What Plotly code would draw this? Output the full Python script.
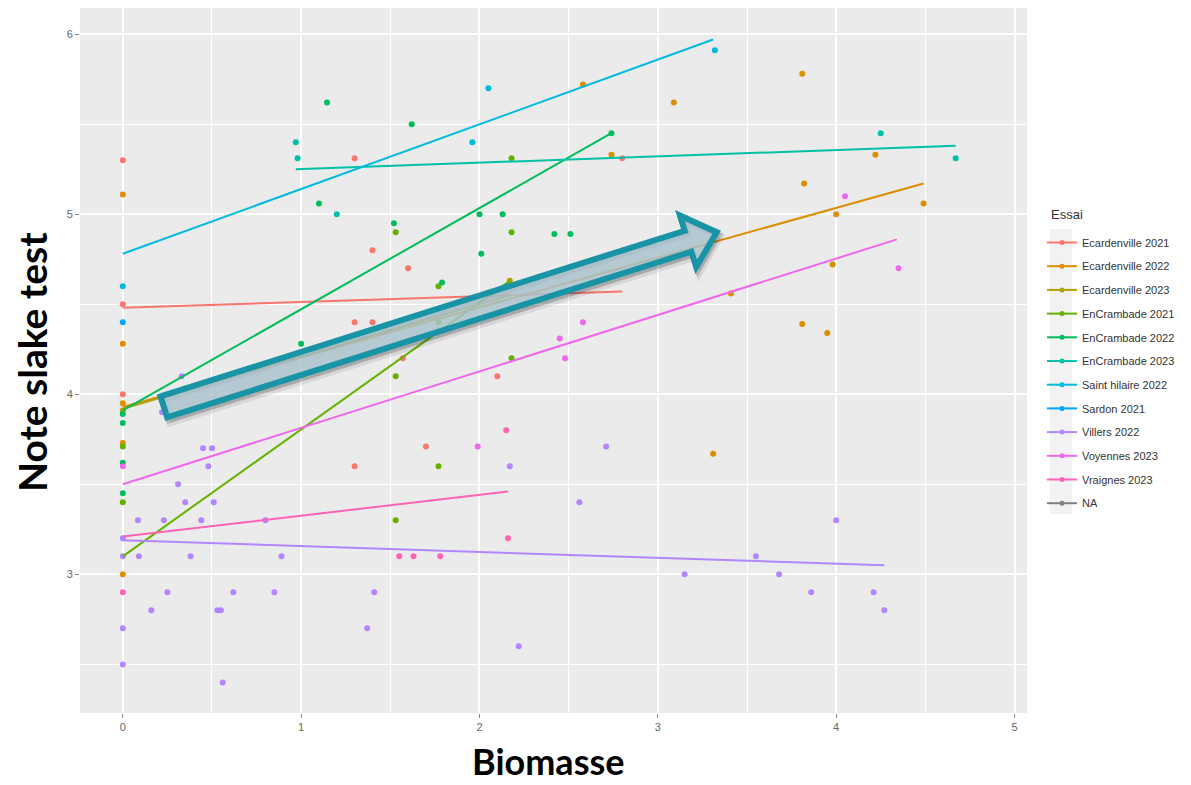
import math
import plotly.graph_objects as go

# ---------------- data ----------------
series_names = ["Ecardenville 2021", "Ecardenville 2022", "Ecardenville 2023",
                "EnCrambade 2021", "EnCrambade 2022", "EnCrambade 2023",
                "Saint hilaire 2022", "Sardon 2021", "Villers 2022",
                "Voyennes 2023", "Vraignes 2023", "NA"]
series_colors = ["#F8766D", "#DB8E00", "#AEA200", "#64B200", "#00BD5C", "#00C1A7",
                 "#00BADE", "#00A6FF", "#B385FF", "#EF67EB", "#FF63B6", "#7F7F7F"]

ecard21_x = [0, 0, 0, 1.30, 1.40, 1.60, 1.30, 1.40, 1.57, 2.10, 1.70, 1.30, 2.80]
ecard21_y = [5.30, 4.50, 4.00, 5.31, 4.80, 4.70, 4.40, 4.40, 4.20, 4.10, 3.71, 3.60, 5.31]

ecard22_x = [0, 0, 0, 0, 0, 2.58, 2.74, 3.09, 3.81, 4.22, 3.82, 4.49, 4.00, 3.98,
             3.41, 3.81, 3.95, 3.31]
ecard22_y = [5.11, 4.28, 3.95, 3.73, 3.00, 5.72, 5.33, 5.62, 5.78, 5.33, 5.17, 5.06, 5.00, 4.72,
             4.56, 4.39, 4.34, 3.67]

ecard23_x = [0, 2.17]
ecard23_y = [3.91, 4.63]

encr21_x = [0, 0, 1.53, 1.77, 1.77, 1.53, 1.77, 2.18, 2.18, 2.18, 1.53]
encr21_y = [3.71, 3.40, 4.90, 4.60, 4.40, 3.30, 3.60, 4.20, 5.31, 4.90, 4.10]

encr22_x = [0, 0, 0, 0, 1.145, 1.62, 1.10, 1.52, 2.00, 2.13, 2.42, 2.51, 2.01, 2.74, 1.00, 1.79]
encr22_y = [3.89, 3.84, 3.62, 3.45, 5.62, 5.50, 5.06, 4.95, 5.00, 5.00, 4.89, 4.89, 4.78, 5.45, 4.28, 4.62]

encr23_x = [0.97, 0.98, 1.20, 4.25, 4.67]
encr23_y = [5.40, 5.31, 5.00, 5.45, 5.31]

sthil22_x = [0, 2.05, 1.96, 3.32]
sthil22_y = [4.60, 5.70, 5.40, 5.91]

sardon21_x = [0]
sardon21_y = [4.40]

villers22_x = [0, 0, 0, 0, 0.085, 0.23, 0.09, 0.31, 0.35, 0.44, 0.38, 0.45, 0.50, 0.48, 0.51,
               0.80, 0.89, 0.25, 0.62, 0.85, 0.16, 0.53, 0.55, 0.56, 0.33, 0.22, 1.41, 1.37,
               2.22, 2.17, 2.71, 2.56, 4.00, 3.55, 3.15, 3.68, 3.86, 4.21, 4.27]
villers22_y = [3.20, 3.10, 2.70, 2.50, 3.30, 3.30, 3.10, 3.50, 3.40, 3.30, 3.10, 3.70, 3.70, 3.60, 3.40,
               3.30, 3.10, 2.90, 2.90, 2.90, 2.80, 2.80, 2.80, 2.40, 4.10, 3.90, 2.90, 2.70,
               2.60, 3.60, 3.71, 3.40, 3.30, 3.10, 3.00, 3.00, 2.90, 2.90, 2.80]

voy23_x = [0, 2.45, 2.58, 2.48, 1.99, 4.05, 4.35]
voy23_y = [3.60, 4.31, 4.40, 4.20, 3.71, 5.10, 4.70]

vraig23_x = [0, 2.15, 2.16, 1.55, 1.63, 1.78]
vraig23_y = [2.90, 3.80, 3.20, 3.10, 3.10, 3.10]

na_x = []
na_y = []

points_x = [ecard21_x, ecard22_x, ecard23_x, encr21_x, encr22_x, encr23_x,
            sthil22_x, sardon21_x, villers22_x, voy23_x, vraig23_x, na_x]
points_y = [ecard21_y, ecard22_y, ecard23_y, encr21_y, encr22_y, encr23_y,
            sthil22_y, sardon21_y, villers22_y, voy23_y, vraig23_y, na_y]

# fitted regression lines (start/end), None = no line
fit_x0 = [0, 0, 0, 0, 0, 0.97, 0, None, 0, 0, 0, None]
fit_x1 = [2.80, 4.49, 2.17, 2.17, 2.74, 4.67, 3.31, None, 4.27, 4.34, 2.16, None]
fit_y0 = [4.48, 3.93, 3.92, 3.10, 3.91, 5.25, 4.78, None, 3.19, 3.50, 3.21, None]
fit_y1 = [4.57, 5.17, 4.55, 4.63, 5.45, 5.38, 5.97, None, 3.05, 4.86, 3.46, None]

x_ticks = [0, 1, 2, 3, 4, 5]
y_ticks = [3, 4, 5, 6]
x_range = [-0.24, 5.07]
y_range = [2.23, 6.145]

# highlighted arrow (annotation) in data coordinates
arrow_tail = (0.23, 3.93)
arrow_tip = (3.33, 4.90)

# ---------------- figure ----------------
OFF = 8  # page body margin
W, H = 1191 - OFF, 785 - OFF
ML, MT = 72, 0
PW, PH = 947, 705
MR, MB = W - ML - PW, H - MT - PH

def px_x(page_x):
    return (page_x - OFF - ML) / PW

def px_y(page_y):
    return (OFF + MT + PH - page_y) / PH

fig = go.Figure()

for i, name in enumerate(series_names):
    fig.add_trace(go.Scatter(
        x=points_x[i], y=points_y[i], mode="markers",
        marker=dict(color=series_colors[i], size=6),
        legendgroup=name, showlegend=False, hoverinfo="x+y", name=name))

for i, name in enumerate(series_names):
    if fit_x0[i] is None:
        continue
    fig.add_trace(go.Scatter(
        x=[fit_x0[i], fit_x1[i]], y=[fit_y0[i], fit_y1[i]], mode="lines",
        line=dict(color=series_colors[i], width=2),
        legendgroup=name, showlegend=False, name=name))

# legend entries (line + point key, like ggplot)
for i, name in enumerate(series_names):
    fig.add_trace(go.Scatter(
        x=[None], y=[None], mode="lines+markers", name=name,
        line=dict(color=series_colors[i], width=2),
        marker=dict(color=series_colors[i], size=5),
        legendgroup=name, showlegend=True))

# arrow geometry (pixel scaled)
sx = PW / (x_range[1] - x_range[0])
sy = PH / (y_range[1] - y_range[0])

def arrow_path(dx_px=0.0, dy_px=0.0, grow=0.0):
    X0, Y0 = arrow_tail[0] * sx, arrow_tail[1] * sy
    X1, Y1 = arrow_tip[0] * sx, arrow_tip[1] * sy
    L = math.hypot(X1 - X0, Y1 - Y0)
    ux, uy = (X1 - X0) / L, (Y1 - Y0) / L
    nx, ny = -uy, ux
    bw, hw, hl = 11.0 + grow, 27.0 + grow, 30.0
    pts = [(0, bw), (L - hl, bw), (L - hl, hw), (L, 0), (L - hl, -hw), (L - hl, -bw), (0, -bw)]
    out = []
    for s, t in pts:
        px = X0 + ux * s + nx * t + dx_px
        py = Y0 + uy * s + ny * t - dy_px
        out.append((px / sx, py / sy))
    return "M " + " L ".join(f"{a:.4f},{b:.4f}" for a, b in out) + " Z"

shapes = [
    dict(type="path", xref="x", yref="y", path=arrow_path(3, 4, 1), layer="above",
         fillcolor="rgba(40,40,40,0.10)", line=dict(color="rgba(40,40,40,0.10)", width=8)),
    dict(type="path", xref="x", yref="y", path=arrow_path(2, 3), layer="above",
         fillcolor="rgba(40,40,40,0.0)", line=dict(color="rgba(40,40,40,0.18)", width=6)),
    dict(type="path", xref="x", yref="y", path=arrow_path(), layer="above",
         fillcolor="rgba(172,198,207,0.82)", line=dict(color="#1993A6", width=6)),
    # grey legend key background
    dict(type="rect", xref="paper", yref="paper",
         x0=px_x(1050), x1=px_x(1072), y0=px_y(514), y1=px_y(229),
         fillcolor="#F2F2F2", line=dict(width=0), layer="below"),
]

fig.update_layout(
    width=W, height=H,
    margin=dict(l=ML, r=MR, t=MT, b=MB, autoexpand=False),
    paper_bgcolor="white", plot_bgcolor="#EBEBEB",
    font=dict(family="Liberation Sans, Arial", size=11, color="#4D4D4D"),
    shapes=shapes,
    showlegend=True,
    legend=dict(
        x=px_x(1042), xanchor="left", y=px_y(228), yanchor="top",
        font=dict(size=11, color="#333333"),
        bgcolor="rgba(0,0,0,0)", itemwidth=30, tracegroupgap=4.7,
        traceorder="grouped",
    ),
    xaxis=dict(range=x_range, tickvals=x_ticks, showgrid=True, gridcolor="white", gridwidth=1.6,
               zeroline=False, ticks="outside", ticklen=4, tickcolor="#888888",
               tickfont=dict(size=11, color="#666666"),
               minor=dict(dtick=0.5, tick0=0, showgrid=True, gridcolor="white", gridwidth=0.8, ticks="")),
    yaxis=dict(range=y_range, tickvals=y_ticks, showgrid=True, gridcolor="white", gridwidth=1.6,
               zeroline=False, ticks="outside", ticklen=4, tickcolor="#888888",
               tickfont=dict(size=11, color="#666666"),
               minor=dict(dtick=0.5, tick0=0, showgrid=True, gridcolor="white", gridwidth=0.8, ticks="")),
    annotations=[
        dict(text="Essai", xref="paper", yref="paper", x=px_x(1049), y=px_y(215),
             xanchor="left", yanchor="middle", showarrow=False,
             font=dict(family="Liberation Sans, Arial", size=13, color="#333333")),
        dict(text="<b>Biomasse</b>", xref="paper", yref="paper",
             x=px_x(548), y=px_y(761), xanchor="center", yanchor="middle",
             showarrow=False, font=dict(family="Lato, Open Sans, sans-serif", size=36, color="black")),
        dict(text="<b>Note slake test</b>", xref="paper", yref="paper", textangle=-90,
             x=px_x(32), y=px_y(362), xanchor="center", yanchor="middle",
             showarrow=False, font=dict(family="Lato, Open Sans, sans-serif", size=39, color="black")),
    ],
)

fig.write_html("out.html")
